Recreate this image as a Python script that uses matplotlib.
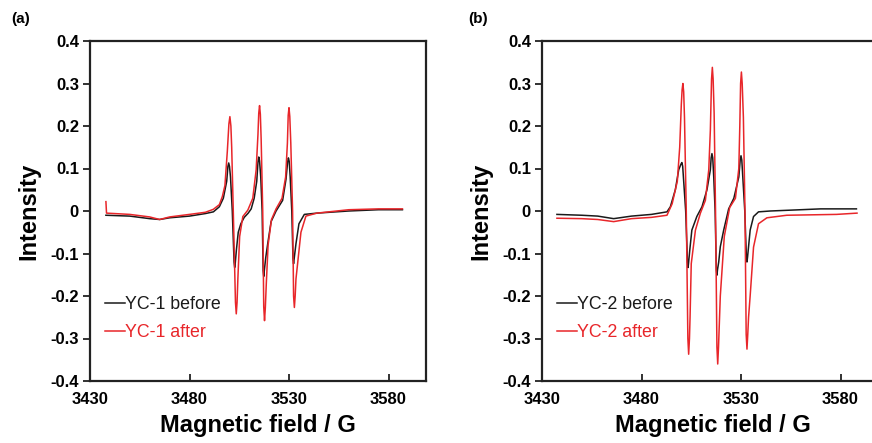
import numpy as np
import matplotlib.pyplot as plt

plt.rcParams['font.family'] = ['Liberation Sans', 'DejaVu Sans']

# panel (a): YC-1, field (G) and intensity
field_1_before = [3438, 3450, 3460, 3465, 3470, 3480, 3488, 3492, 3495, 3497, 3498.7, 3499.3,
                  3499.7, 3500.1, 3500.6, 3501.5, 3502.4, 3502.7, 3503.0, 3503.6, 3504.5,
                  3505.8, 3507.5, 3509.5, 3511, 3512.5, 3513.8, 3514.4, 3514.8, 3515.2,
                  3515.8, 3516.5, 3517.0, 3517.3, 3517.6, 3518.3, 3519.3, 3521, 3523.5,
                  3526.8, 3528.5, 3529.3, 3529.7, 3530.1, 3530.6, 3531.4, 3532.0, 3532.3,
                  3532.6, 3533.5, 3535, 3537.7, 3544, 3560, 3575, 3587]
int_1_before = [-0.010, -0.012, -0.018, -0.020, -0.016, -0.012, -0.006, -0.002, 0.010, 0.030, 0.070, 0.105,
                0.113, 0.105, 0.080, 0.000, -0.120, -0.133, -0.122, -0.090, -0.050,
                -0.030, -0.015, -0.005, 0.005, 0.030, 0.070, 0.115, 0.127, 0.118,
                0.080, 0.000, -0.140, -0.154, -0.140, -0.110, -0.077, -0.025, 0.000,
                0.025, 0.075, 0.115, 0.125, 0.117, 0.080, 0.000, -0.112, -0.124,
                -0.112, -0.077, -0.030, -0.008, -0.005, 0.000, 0.003, 0.003]

field_1_after = [3438, 3438.3, 3450, 3460, 3465, 3470, 3480, 3488, 3492, 3495, 3496.5,
                 3497.8, 3499, 3499.8, 3500.3, 3500.8, 3501.2, 3502, 3503.1, 3503.5, 3503.9,
                 3504.3, 3505.2, 3506.8, 3509.3, 3511.8, 3513.5, 3514.4, 3514.8, 3515.2,
                 3515.6, 3516, 3516.8, 3517.3, 3517.7, 3518.1, 3518.6, 3519.5, 3521.2,
                 3523.5, 3526.5, 3528.3, 3529.2, 3529.6, 3530, 3530.4, 3530.9, 3531.8,
                 3532.3, 3532.7, 3533.1, 3533.5, 3534.3, 3536, 3538.5, 3544, 3560, 3575, 3587]
int_1_after = [0.022, -0.005, -0.008, -0.014, -0.020, -0.014, -0.008, -0.003, 0.004, 0.015, 0.034,
               0.060, 0.140, 0.205, 0.222, 0.200, 0.150, 0.000, -0.215, -0.242, -0.215,
               -0.160, -0.060, -0.013, 0.002, 0.030, 0.097, 0.180, 0.230, 0.248,
               0.228, 0.170, 0.000, -0.225, -0.258, -0.228, -0.170, -0.080, -0.020,
               0.005, 0.030, 0.080, 0.160, 0.225, 0.243, 0.222, 0.160, 0.000,
               -0.200, -0.227, -0.200, -0.160, -0.125, -0.050, -0.012, -0.005, 0.003, 0.005, 0.005]

# panel (b): YC-2
field_2_before = [3437.5, 3450, 3458, 3466, 3475, 3485, 3492.8, 3494.5, 3497, 3498.7, 3499.8,
                  3500.3, 3500.7, 3501.2, 3502.2, 3503.1, 3503.4, 3503.7, 3504.3, 3505.3,
                  3507.8, 3510.4, 3512.9, 3514.6, 3515.0, 3515.4, 3515.8, 3516.3, 3517,
                  3517.6, 3517.9, 3518.2, 3518.8, 3519.6, 3521.3, 3523.8, 3526.4, 3528.9,
                  3529.6, 3530, 3530.4, 3530.9, 3531.9, 3532.7, 3533, 3533.3, 3534.6,
                  3536.3, 3538.8, 3544.7, 3560, 3570, 3588]
int_2_before = [-0.008, -0.010, -0.012, -0.018, -0.012, -0.008, -0.002, 0.010, 0.050, 0.097, 0.110,
                0.114, 0.105, 0.070, 0.000, -0.120, -0.133, -0.120, -0.090, -0.045,
                -0.013, 0.010, 0.050, 0.097, 0.125, 0.135, 0.125, 0.080, 0.000,
                -0.138, -0.151, -0.138, -0.120, -0.084, -0.045, 0.005, 0.030, 0.080,
                0.120, 0.130, 0.120, 0.080, 0.000, -0.108, -0.120, -0.108, -0.045,
                -0.013, -0.002, 0.000, 0.003, 0.005, 0.005]

field_2_after = [3437.5, 3450, 3458, 3466, 3475, 3485, 3492.8, 3495.4, 3498, 3499.2, 3500,
                 3500.4, 3500.8, 3501.2, 3501.6, 3502.5, 3503.3, 3503.7, 3504.1, 3504.4,
                 3505, 3507.1, 3509.6, 3512.1, 3513.8, 3514.6, 3515.2, 3515.6, 3516.0,
                 3516.5, 3517.2, 3517.9, 3518.3, 3518.7, 3519, 3519.6, 3521.6, 3524.3,
                 3527.2, 3528.9, 3529.4, 3529.8, 3530.2, 3530.6, 3531.2, 3532, 3532.6,
                 3533, 3533.4, 3533.8, 3534.6, 3536.3, 3538.8, 3543, 3553, 3578, 3588.3]
int_2_after = [-0.017, -0.018, -0.020, -0.025, -0.018, -0.015, -0.010, 0.017, 0.070, 0.150, 0.250,
               0.285, 0.300, 0.280, 0.220, 0.000, -0.300, -0.337, -0.300, -0.250,
               -0.124, -0.045, -0.005, 0.025, 0.097, 0.190, 0.310, 0.338, 0.310,
               0.230, 0.000, -0.320, -0.360, -0.320, -0.280, -0.200, -0.060, 0.008,
               0.030, 0.100, 0.200, 0.300, 0.327, 0.300, 0.220, 0.000, -0.290,
               -0.325, -0.290, -0.250, -0.200, -0.085, -0.030, -0.016, -0.010, -0.008, -0.005]

x_ticks = [3430, 3480, 3530, 3580]
y_ticks = [-0.4, -0.3, -0.2, -0.1, 0, 0.1, 0.2, 0.3, 0.4]
y_ticklabels = ['-0.4', '-0.3', '-0.2', '-0.1', '0', '0.1', '0.2', '0.3', '0.4']

BLACK = '#1a1a1a'
RED = '#e8262a'

W, H = 872, 443
fig = plt.figure(figsize=(W / 100, H / 100), dpi=100)


def make_panel(left_px, width_px, tag, tag_x, name, fb, ib, fa, ia):
    ax = fig.add_axes([left_px / W, (H - 381) / H, width_px / W, 340 / H])
    ax.plot(fb, ib, color=BLACK, lw=1.1, label=name + ' before')
    ax.plot(fa, ia, color=RED, lw=1.1, label=name + ' after')
    ax.set_xlim(3430, 3430 + width_px / 1.99)
    ax.set_ylim(-0.4, 0.4)
    ax.set_xticks(x_ticks)
    ax.set_yticks(y_ticks)
    ax.set_yticklabels(y_ticklabels)
    for lab in ax.get_xticklabels() + ax.get_yticklabels():
        lab.set_fontweight('bold')
    ax.tick_params(axis='x', direction='in', length=5, width=1.3, labelsize=12, pad=8, color='#222222')
    ax.tick_params(axis='y', direction='out', length=5, width=1.3, labelsize=12, pad=3, color='#222222')
    for sp in ax.spines.values():
        sp.set_linewidth(1.6)
        sp.set_color('#222222')
    ax.set_xlabel('Magnetic field / G', fontsize=17, fontweight='bold', labelpad=5)
    ax.set_ylabel('Intensity', fontsize=17, fontweight='bold', labelpad=7)
    ax.legend(loc='upper left', bbox_to_anchor=(0.045, 0.25), frameon=False,
              fontsize=12.8, handlelength=1.1, handletextpad=0.0, labelspacing=0.62,
              borderpad=0, borderaxespad=0, labelcolor='linecolor')
    fig.text(tag_x / W, 1 - 19 / H, tag, fontsize=11, fontweight='bold', va='center')
    return ax


make_panel(90, 336, '(a)', 11, 'YC-1', field_1_before, int_1_before, field_1_after, int_1_after)
axb = make_panel(542, 342, '(b)', 468, 'YC-2', field_2_before, int_2_before, field_2_after, int_2_after)
axb.spines['right'].set_visible(False)  # falls outside the picture anyway

fig.savefig('out.png', dpi=100)
